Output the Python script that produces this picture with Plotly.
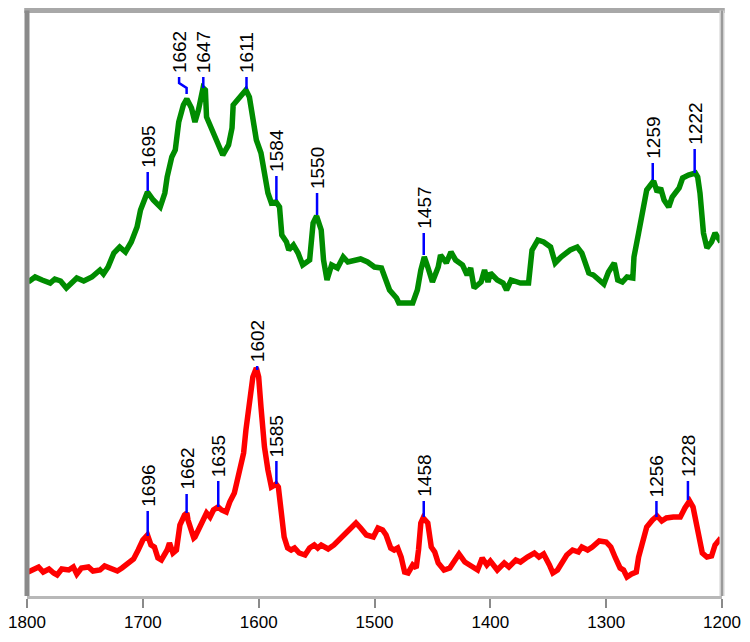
import plotly.graph_objects as go

# upper (green) spectrum, wavenumber (cm-1) vs intensity (a.u.)
green_wn = [1799, 1793, 1787, 1780, 1776, 1771, 1766, 1757, 1751, 1744, 1737, 1734, 1730, 1725,
            1720, 1715, 1710, 1705, 1702, 1696, 1691, 1685, 1681, 1679, 1675, 1672, 1669, 1665,
            1662, 1658, 1655, 1652, 1648, 1646, 1645, 1641, 1636, 1634, 1631, 1626, 1623, 1622,
            1618, 1615, 1611, 1608, 1605, 1602, 1598, 1595, 1592, 1589, 1585, 1582, 1580, 1576,
            1574, 1570, 1566, 1562, 1556, 1553, 1550, 1546, 1544, 1541, 1537, 1532, 1527, 1523,
            1517, 1512, 1506, 1500, 1494, 1490, 1487, 1481, 1479, 1467, 1463, 1460, 1457, 1454,
            1450, 1445, 1443, 1438, 1434, 1430, 1424, 1420, 1417, 1414, 1408, 1405, 1402, 1400,
            1394, 1389, 1386, 1382, 1378, 1374, 1367, 1364, 1359, 1354, 1348, 1344, 1339, 1334,
            1331, 1325, 1321, 1315, 1311, 1302, 1298, 1293, 1290, 1286, 1282, 1277, 1276, 1272,
            1269, 1265, 1259, 1256, 1253, 1250, 1246, 1243, 1237, 1234, 1229, 1223, 1221, 1219,
            1216, 1213, 1209, 1206, 1201]
green_int = [314, 319, 316, 313, 317, 315, 308, 318, 315, 319, 326, 322, 329, 343,
             349, 344, 354, 369, 386, 404, 396, 389, 403, 419, 439, 446, 474, 491,
             497, 488, 474, 486, 508, 506, 479, 469, 456, 451, 441, 451, 468, 491,
             496, 499, 506, 499, 479, 456, 443, 423, 403, 393, 394, 389, 361, 354,
             346, 351, 343, 331, 336, 373, 380, 366, 336, 316, 331, 328, 339, 334,
             336, 337, 334, 329, 328, 316, 306, 298, 293, 293, 306, 326, 339, 329,
             314, 329, 341, 333, 344, 336, 331, 321, 328, 308, 314, 326, 314, 323,
             316, 313, 306, 316, 314, 313, 313, 346, 356, 354, 349, 333, 339, 343,
             346, 349, 343, 323, 321, 312, 324, 333, 316, 314, 319, 318, 339, 363,
             383, 406, 415, 404, 408, 396, 389, 399, 408, 418, 421, 423, 419, 403,
             363, 348, 354, 363, 354]

# lower (red) spectrum
red_wn = [1799, 1794, 1790, 1786, 1781, 1777, 1774, 1770, 1764, 1760, 1757, 1753, 1747, 1743,
          1737, 1733, 1727, 1722, 1718, 1712, 1708, 1704, 1700, 1696, 1693, 1690, 1687, 1684,
          1679, 1677, 1674, 1671, 1668, 1664, 1662, 1661, 1658, 1656, 1655, 1651, 1647, 1645,
          1642, 1639, 1635, 1632, 1628, 1625, 1621, 1618, 1613, 1611, 1608, 1605, 1602, 1600,
          1598, 1595, 1592, 1589, 1586, 1585, 1583, 1580, 1578, 1575, 1572, 1569, 1565, 1560,
          1556, 1552, 1549, 1546, 1540, 1535, 1529, 1523, 1516, 1512, 1507, 1501, 1497, 1493,
          1490, 1486, 1483, 1480, 1477, 1474, 1471, 1467, 1464, 1462, 1460, 1458, 1454, 1451,
          1448, 1445, 1440, 1435, 1431, 1427, 1422, 1417, 1411, 1407, 1403, 1400, 1394, 1388,
          1384, 1378, 1374, 1368, 1362, 1358, 1354, 1349, 1346, 1342, 1338, 1334, 1329, 1324,
          1321, 1316, 1312, 1306, 1300, 1296, 1292, 1288, 1285, 1282, 1278, 1274, 1272, 1269,
          1265, 1260, 1256, 1252, 1248, 1242, 1236, 1232, 1228, 1225, 1222, 1219, 1217, 1213,
          1209, 1206, 1201]
red_int = [24, 26, 29, 24, 27, 23, 21, 27, 26, 29, 22, 28, 29, 25,
           26, 30, 28, 25, 28, 34, 37, 46, 56, 61, 51, 49, 38, 36,
           46, 53, 43, 46, 71, 81, 83, 76, 64, 58, 59, 69, 79, 83,
           79, 86, 89, 86, 84, 94, 103, 119, 143, 166, 194, 219, 228, 219,
           189, 149, 126, 109, 111, 112, 109, 83, 59, 48, 46, 48, 43, 41,
           48, 51, 48, 51, 47, 51, 58, 66, 73, 68, 61, 59, 68, 66,
           61, 48, 46, 48, 39, 24, 23, 31, 28, 46, 73, 78, 73, 49,
           44, 33, 26, 28, 34, 42, 34, 31, 26, 38, 31, 35, 26, 33,
           29, 36, 34, 39, 43, 39, 42, 31, 23, 26, 34, 41, 46, 44,
           49, 46, 49, 55, 54, 49, 38, 28, 26, 19, 22, 24, 39, 53,
           69, 76, 80, 75, 78, 79, 79, 88, 95, 89, 73, 56, 43, 39,
           40, 51, 58]

# peak labels: text, marker x, marker bottom, marker top
green_labels = ["1695", "1647", "1611", "1584", "1550", "1457", "1259", "1222"]
green_lab_x = [1695.8, 1647.8, 1610.5, 1584.7, 1549.6, 1457.5, 1259.8, 1223.6]
green_lab_y0 = [405, 508, 507, 396, 381, 341, 416, 423]
green_lab_y1 = [424, 519, 519, 420, 403, 363, 433, 447]
# the 1662 marker is bent to make room for the 1647 label
bent_x = [1662.2, 1662.2, 1668.7, 1668.7]
bent_y = [502, 508, 513, 519]

red_labels = ["1696", "1662", "1635", "1602", "1585", "1458", "1256", "1228"]
red_lab_x = [1695.8, 1662.2, 1634.9, 1601.3, 1584.7, 1457.5, 1256.6, 1229.4]
red_lab_y0 = [60, 83, 89, 226, 112, 79, 79, 96]
red_lab_y1 = [85, 102, 115, 230, 135, 95, 95, 115]

ticks = [1800, 1700, 1600, 1500, 1400, 1300, 1200]

fig = go.Figure()

fig.add_trace(go.Scatter(x=green_wn, y=green_int, mode="lines",
                         line=dict(color="#008c00", width=5.5)))
fig.add_trace(go.Scatter(x=red_wn, y=red_int, mode="lines",
                         line=dict(color="#ff0000", width=5.5)))

# blue marker ticks
mx, my = [], []
for x, y0, y1 in zip(green_lab_x + red_lab_x, green_lab_y0 + red_lab_y0,
                     green_lab_y1 + red_lab_y1):
    mx += [x, x, None]
    my += [y0, y1, None]
fig.add_trace(go.Scatter(x=mx, y=my, mode="lines", line=dict(color="#0000ff", width=2.5)))
fig.add_trace(go.Scatter(x=bent_x, y=bent_y, mode="lines", line=dict(color="#0000ff", width=2.5)))

lab_font = dict(family="Liberation Sans, Arial", size=19, color="black")
for t, x, y in zip(green_labels + red_labels, green_lab_x + red_lab_x,
                   green_lab_y1 + red_lab_y1):
    fig.add_annotation(x=x, y=y, text=t, textangle=-90, showarrow=False,
                       xanchor="center", yanchor="bottom", yshift=2, font=lab_font)
fig.add_annotation(x=bent_x[-1], y=bent_y[-1], text="1662", textangle=-90, showarrow=False,
                   xanchor="center", yanchor="bottom", yshift=2, font=lab_font)

# frame (top border sits just above the plot area)
fig.add_shape(type="line", xref="paper", yref="paper", x0=-0.004, x1=1.004, y0=1.0043, y1=1.0043,
              line=dict(color="#a8a8a8", width=5))
fig.add_shape(type="line", xref="paper", yref="paper", x0=1, x1=1, y0=0, y1=1.0043,
              line=dict(color="#cfcfcf", width=5))
fig.add_shape(type="line", xref="paper", yref="paper", x0=1, x1=1, y0=0, y1=1.0043,
              line=dict(color="#9a9a9a", width=2))
fig.add_shape(type="line", xref="paper", yref="paper", x0=0, x1=0, y0=0, y1=1.0043,
              line=dict(color="#8a8a8a", width=5))

# the page body adds an 8px margin, so the figure is sized to fit inside the window
fig.update_layout(
    width=742, height=634,
    margin=dict(l=19, r=28, t=5, b=46),
    paper_bgcolor="white", plot_bgcolor="white",
    showlegend=False,
    font=dict(family="Liberation Sans, Arial", size=17, color="black"),
    xaxis=dict(range=[1800, 1200], tickvals=ticks, ticks="outside", ticklen=9,
               tickwidth=2, tickcolor="#8a8a8a", showline=True, linecolor="#b8b8b8",
               linewidth=3, showgrid=False, zeroline=False, ticklabeloverflow="allow",
               automargin=False),
    yaxis=dict(range=[0, 583], visible=False),
)

fig.write_html("out.html")
